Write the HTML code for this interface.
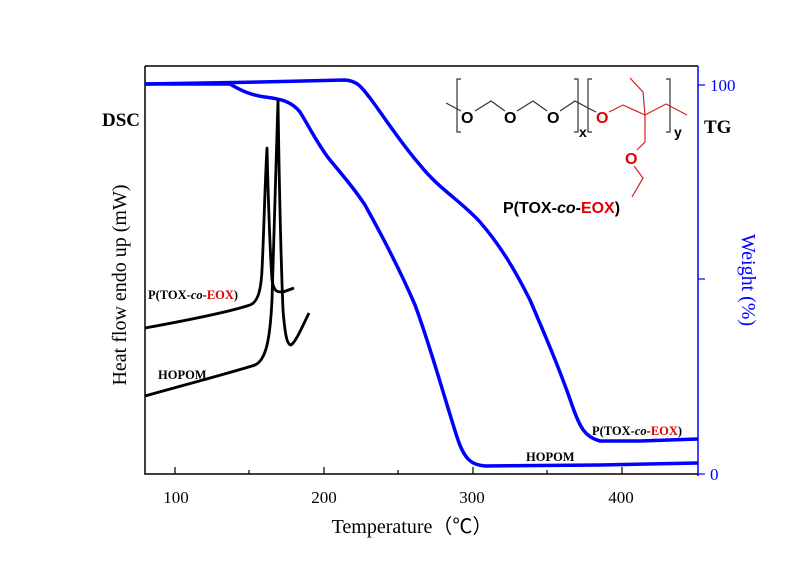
<!DOCTYPE html>
<html><head><style>body{margin:0;background:#fff}svg{display:block}</style></head><body>
<svg width="808" height="568" xmlns="http://www.w3.org/2000/svg" font-family="Liberation Serif, serif">
<rect width="808" height="568" fill="#fff"/>
<path d="M145,66 H698 M145,66 V474 H698" fill="none" stroke="#000" stroke-width="1.5"/>
<line x1="698" y1="66" x2="698" y2="476" stroke="#0000ff" stroke-width="1.5"/>
<g stroke="#000" stroke-width="1.2">
<line x1="175" y1="474" x2="175" y2="467"/><line x1="249" y1="474" x2="249" y2="470"/>
<line x1="324" y1="474" x2="324" y2="467"/><line x1="398" y1="474" x2="398" y2="470"/>
<line x1="473" y1="474" x2="473" y2="467"/><line x1="547" y1="474" x2="547" y2="470"/>
<line x1="622" y1="474" x2="622" y2="467"/>
</g>
<g font-size="17" text-anchor="middle" fill="#000">
<text x="176" y="503">100</text><text x="324" y="503">200</text><text x="472" y="503">300</text><text x="621" y="503">400</text>
</g>
<text x="412" y="533" font-size="20" text-anchor="middle">Temperature（℃）</text>
<g stroke="#0000ff" stroke-width="1.2">
<line x1="698" y1="85" x2="705" y2="85"/><line x1="698" y1="279" x2="705" y2="279"/><line x1="698" y1="474" x2="705" y2="474"/>
</g>
<g font-size="17" fill="#0000ff"><text x="710" y="91">100</text><text x="710" y="480">0</text></g>
<text transform="translate(742,280) rotate(90)" font-size="20" fill="#0000ff" text-anchor="middle">Weight (%)</text>
<text transform="translate(126,285) rotate(-90)" font-size="20" fill="#000" text-anchor="middle">Heat flow endo up (mW)</text>
<text x="102" y="126" font-size="19" font-weight="bold">DSC</text>
<text x="704" y="133" font-size="19" font-weight="bold">TG</text>
<g fill="none" stroke="#0000ff" stroke-width="3.5" stroke-linejoin="round">
<path d="M145,84 L230,84 C240,90 250,95 265,97 C282,99 292,102 300,112 C310,128 318,145 330,160 C345,178 355,190 365,205 C380,232 400,270 415,305 C430,345 445,400 458,440 C465,460 472,465 485,466 L600,465 L698,463"/>
<path d="M145,84 L260,82 L345,80 C358,81 362,88 370,98 C385,118 400,142 420,165 C440,190 460,200 480,222 C500,245 515,270 530,300 C545,335 560,370 572,405 C580,428 585,437 600,441 L640,441 L698,439"/>
</g>
<g fill="none" stroke="#000" stroke-width="2.8" stroke-linejoin="round">
<path d="M145,328 C200,318 235,310 250,305 C258,302 261,290 262,270 C264,230 265,180 267,148 C268,190 270,250 272,280 C274,293 278,292 283,292 L294,288"/>
<path d="M145,396 C210,378 240,370 255,365 C266,360 270,340 272,300 C274,240 276,160 278,100 C279,170 281,260 283,310 C285,335 287,345 291,345 C296,342 303,325 309,313"/>
</g>
<g font-size="12.5" font-weight="bold" fill="#000">
<text x="148" y="299">P(TOX-<tspan font-style="italic">co</tspan>-<tspan fill="#e00000">EOX</tspan>)</text>
<text x="158" y="379">HOPOM</text>
<text x="592" y="435">P(TOX-<tspan font-style="italic">co</tspan>-<tspan fill="#e00000">EOX</tspan>)</text>
<text x="526" y="461">HOPOM</text>
</g>
<g fill="none" stroke-width="1.2">
<path d="M461,79 H457 V132 H461 M574,79 H578 V132 H574 M592,79 H588 V132 H592 M666,79 H670 V132 H666" stroke="#333"/>
<path d="M446,103 L461,111 M475,111 L491,101 L505,111 M517,111 L533,101 L547,111 M560,111 L575,101 L590,109 L596,112" stroke="#333"/>
<path d="M609,112 L623,105 L645,115 L666,104 L687,115 M645,115 L643,92 L630,78 M645,115 L645,142 L637,150 M634,166 L643,178 L632,197" stroke="#d42020"/>
</g>
<g font-family="Liberation Sans, sans-serif" font-weight="bold" font-size="16">
<text x="461" y="123" fill="#000">O</text><text x="504" y="123" fill="#000">O</text><text x="547" y="123" fill="#000">O</text>
<text x="596" y="123" fill="#e00000">O</text><text x="625" y="164" fill="#e00000">O</text>
<text x="579" y="137" fill="#000" font-size="14">x</text><text x="674" y="137" fill="#000" font-size="14">y</text>
<text x="503" y="213" fill="#000">P(TOX-<tspan font-style="italic">co</tspan>-<tspan fill="#e00000">EOX</tspan>)</text>
</g>
</svg>
</body></html>
